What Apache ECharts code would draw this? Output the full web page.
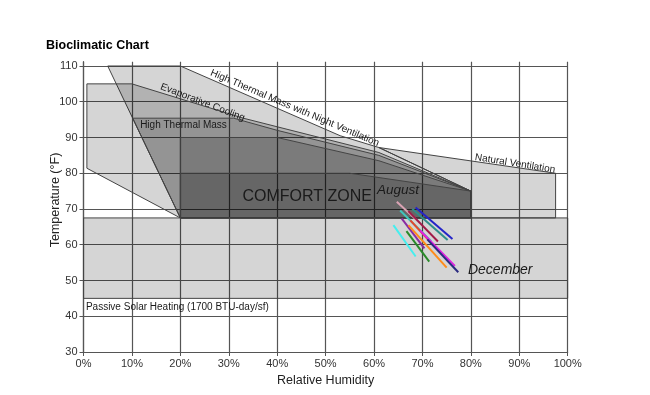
<!DOCTYPE html>
<html><head><meta charset="utf-8">
<script src="https://cdn.jsdelivr.net/npm/echarts@6/dist/echarts.min.js"></script>
<style>html,body{margin:0;padding:0;background:#fff}#chart{width:650px;height:395px}</style>
</head><body><div id="chart"></div>
<script>
// ---- data (relative humidity %, temperature °F) ----
const xTickValues = [0,10,20,30,40,50,60,70,80,90,100];
const yTickValues = [30,40,50,60,70,80,90,100,110];

const passiveSolar       = [[0,45],[100,45],[100,67.5],[0,67.5]];
const nightVentilation   = [[5,110],[20,110],[53,90.5],[61,87.2],[80,75],[80,67.5],[20,67.5]];
const naturalVentilation = [[61,87.2],[97.5,80],[97.5,67.5],[80,67.5],[80,75]];
const evaporativeCooling = [[0.7,105],[10,105],[33,95.4],[40,93],[61,85.8],[80,75],[80,67.5],[20,67.5],[0.7,81.4]];
const highThermalMass    = [[10.15,95.4],[31,95.4],[40,92],[61,85],[80,75],[80,67.5],[20,67.5]];
const thermalMassCore    = [[20,90],[40,90],[61,83.5],[80,75],[80,67.5],[20,67.5]];
const comfortZone        = [[20,80],[55,80],[80,75],[80,67.5],[20,67.5]];

const monthNames  = ['August','July','September','June','October','May','April','November','March','February','January','December'];
const monthStart  = [[64.7,72.0],[68.6,70.4],[67.9,70.0],[67.1,69.4],[65.4,69.6],[67.5,66.8],[65.7,67.4],[67.1,65.5],[69.5,64.0],[66.7,63.8],[64.0,65.5],[71.0,61.5]];
const monthEnd    = [[69.5,66.0],[76.2,61.6],[75.2,61.3],[73.2,60.9],[71.8,61.0],[72.5,59.5],[70.4,59.0],[75.0,53.6],[76.7,54.1],[71.4,55.3],[68.6,56.7],[77.4,52.3]];
const monthColors = ['#d9a3b4','#2424c8','#2e8f8a','#a01a48','#3ec6bd','#e8452c','#8a2ca2','#ff8c1a','#e022e0','#2a8a2a','#45eeee','#2a2a80'];

const annotations = [
  {text:'High Thermal Mass with Night Ventilation', at:[25.9,106.9], rot:-23, font:'10px "Liberation Sans", Arial', align:'left', va:'bottom'},
  {text:'Evaporative Cooling', at:[15.6,103.0], rot:-21, font:'10px "Liberation Sans", Arial', align:'left', va:'bottom'},
  {text:'Natural Ventilation', at:[80.7,83.1], rot:-9, font:'10px "Liberation Sans", Arial', align:'left', va:'bottom'},
  {text:'High Thermal Mass', at:[11.7,93.3], rot:0, font:'10px "Liberation Sans", Arial', align:'left', va:'middle'},
  {text:'COMFORT ZONE', at:[46.2,73.4], rot:0, font:'16px "Liberation Sans", Arial', align:'center', va:'middle'},
  {text:'August', at:[60.6,75.3], rot:0, font:'italic 13.5px "Liberation Sans", Arial', align:'left', va:'middle'},
  {text:'December', at:[79.4,52.9], rot:0, font:'italic 14px "Liberation Sans", Arial', align:'left', va:'middle'},
  {text:'Passive Solar Heating (1700 BTU-day/sf)', at:[0.5,42.6], rot:0, font:'10px "Liberation Sans", Arial', align:'left', va:'middle'}
];

function polygonSeries(name, pts) {
  return {
    type:'custom', name, coordinateSystem:'cartesian2d', silent:true, clip:false, z:2,
    data:[[pts[0][0], pts[0][1]]],
    renderItem:(params, api) => ({
      type:'polygon',
      shape:{points: pts.map(p => api.coord(p))},
      style:{fill:'rgba(0,0,0,0.165)', stroke:'#444', lineWidth:1}
    })
  };
}

const series = [
  polygonSeries('Passive Solar Heating', passiveSolar),
  polygonSeries('Night Ventilation', nightVentilation),
  polygonSeries('Natural Ventilation', naturalVentilation),
  polygonSeries('Evaporative Cooling', evaporativeCooling),
  polygonSeries('High Thermal Mass', highThermalMass),
  polygonSeries('Thermal Mass Core', thermalMassCore),
  polygonSeries('Comfort Zone', comfortZone)
];

monthNames.forEach((m, i) => {
  series.push({
    type:'line', name:m, data:[monthStart[i], monthEnd[i]], symbol:'none', silent:true, z:5,
    lineStyle:{color:monthColors[i], width:2}
  });
});

series.push({
  type:'custom', name:'labels', coordinateSystem:'cartesian2d', silent:true, clip:false, z:6,
  data: annotations.map((a, i) => [a.at[0], a.at[1], i]),
  renderItem:(params, api) => {
    const a = annotations[params.dataIndex];
    const p = api.coord(a.at);
    return {type:'text', x:p[0], y:p[1], rotation:a.rot*Math.PI/180,
      style:{text:a.text, font:a.font, fill:'#1a1a1a', align:a.align, verticalAlign:a.va}};
  }
});

const chart = echarts.init(document.getElementById('chart'), null, {renderer:'canvas'});
chart.setOption({
  animation:false,
  backgroundColor:'#fff',
  title:{text:'Bioclimatic Chart', left:46, top:39, padding:0,
    textStyle:{fontFamily:'"Liberation Sans", Arial', fontSize:12.5, fontWeight:'bold', color:'#000'}},
  graphic:[{type:'text', x:56, y:200, rotation:Math.PI/2,
    style:{text:'Temperature (°F)', font:'12.5px "Liberation Sans", Arial', fill:'#222', align:'center', verticalAlign:'middle'}}],
  grid:{left:83.5, right:82.3, top:61.7, bottom:43, containLabel:false},
  xAxis:{type:'value', min:xTickValues[0], max:xTickValues[xTickValues.length-1], interval:10,
    name:'Relative Humidity', nameLocation:'middle', nameGap:22,
    nameTextStyle:{fontFamily:'"Liberation Sans", Arial', fontSize:12.5, color:'#222'},
    axisLine:{show:true, lineStyle:{color:'#555', width:1.2}},
    axisTick:{show:true, length:4, lineStyle:{color:'#555'}},
    axisLabel:{formatter:'{value}%', fontFamily:'"Liberation Sans", Arial', fontSize:11, color:'#333', margin:6},
    splitLine:{show:true, lineStyle:{color:'#555', width:1.2}}},
  yAxis:{type:'value', min:yTickValues[0], max:111.2, interval:10,
    axisLine:{show:true, lineStyle:{color:'#555', width:1.2}},
    axisTick:{show:true, length:4, lineStyle:{color:'#555'}},
    axisLabel:{fontFamily:'"Liberation Sans", Arial', fontSize:11, color:'#333', margin:6, showMaxLabel:false},
    splitLine:{show:true, showMaxLine:false, lineStyle:{color:'#555', width:1.2}}},
  series
});
</script></body></html>
